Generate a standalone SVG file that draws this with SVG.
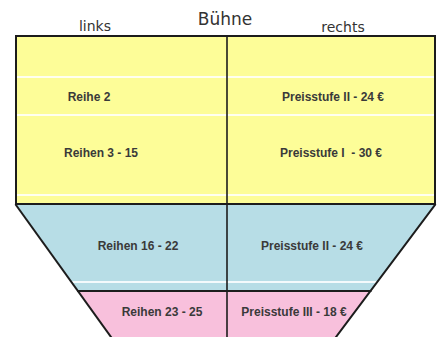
<svg xmlns="http://www.w3.org/2000/svg" width="438" height="337" viewBox="0 0 438 337">
  <style>
    .head { font-family: "DejaVu Sans", "Liberation Sans", sans-serif; fill: #333; }
    .cell { font-family: "Liberation Sans", Arial, sans-serif; font-weight: bold; font-size: 12px; fill: #3a3a3a; text-anchor: middle; }
    .edge { stroke: #1c1c1c; stroke-width: 2; fill: none; stroke-linecap: square; }
    .mid { stroke: #1c1c1c; stroke-width: 1.6; fill: none; }
    .rule { stroke: #ffffff; stroke-opacity: 0.85; stroke-width: 2; }
  </style>
  <rect width="438" height="337" fill="#ffffff"/>

  <!-- column headings and stage -->
  <g id="headings">
    <text class="head" x="95" y="31" font-size="14" text-anchor="middle">links</text>
    <text class="head" x="225" y="25" font-size="17" text-anchor="middle">Bühne</text>
    <text class="head" x="343" y="32" font-size="14" text-anchor="middle">rechts</text>
  </g>

  <!-- yellow block: rows 1 - 15 -->
  <g id="block-yellow">
    <rect x="16" y="36" width="419" height="168" fill="#fdfd98"/>
    <line class="rule" x1="16" y1="77" x2="435" y2="77"/>
    <line class="rule" x1="16" y1="115" x2="435" y2="115"/>
    <line class="rule" x1="16" y1="195" x2="435" y2="195"/>
  </g>
  <g id="reihe-2">
    <text class="cell" x="89" y="101">Reihe 2</text>
  </g>
  <g id="preis-reihe-2">
    <text class="cell" x="333" y="101">Preisstufe II - 24 €</text>
  </g>
  <g id="reihen-3-15">
    <text class="cell" x="101" y="157">Reihen 3 - 15</text>
  </g>
  <g id="preis-reihen-3-15">
    <text class="cell" x="331" y="157" xml:space="preserve">Preisstufe I  - 30 €</text>
  </g>

  <!-- blue block: rows 16 - 22 -->
  <g id="block-blue">
    <polygon points="16,204 435,204 370.5,291 78,291" fill="#b7dde6"/>
    <line class="rule" x1="71" y1="282" x2="377" y2="282"/>
  </g>
  <g id="reihen-16-22">
    <text class="cell" x="138" y="250">Reihen 16 - 22</text>
  </g>
  <g id="preis-reihen-16-22">
    <text class="cell" x="312" y="250">Preisstufe II - 24 €</text>
  </g>

  <!-- pink block: rows 23 - 25 -->
  <g id="block-pink">
    <polygon points="78,291 370.5,291 336,337 111,337" fill="#f8c0dc"/>
  </g>
  <g id="reihen-23-25">
    <text class="cell" x="162" y="316">Reihen 23 - 25</text>
  </g>
  <g id="preis-reihen-23-25">
    <text class="cell" x="294" y="316">Preisstufe III - 18 €</text>
  </g>

  <!-- outlines and dividers -->
  <g id="connectors">
    <path class="edge" d="M16,204 L16,36 L435,36 L435,204"/>
    <line class="edge" x1="16" y1="204" x2="435" y2="204"/>
    <line class="edge" x1="16" y1="205" x2="111" y2="337"/>
    <line class="edge" x1="435" y1="205" x2="336" y2="337"/>
    <line class="edge" x1="78" y1="291" x2="370.5" y2="291"/>
    <line class="mid" x1="227" y1="36" x2="227" y2="337"/>
  </g>
</svg>
